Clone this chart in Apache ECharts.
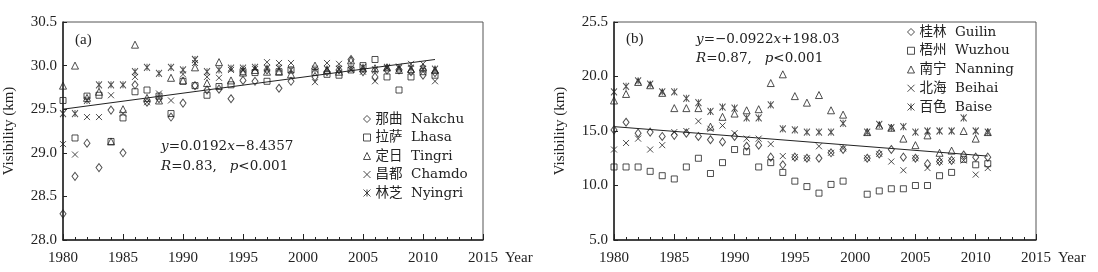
<!DOCTYPE html>
<html>
<head>
<meta charset="utf-8">
<script src="https://cdn.jsdelivr.net/npm/echarts@6/dist/echarts.min.js"></script>
<style>
html, body { margin: 0; padding: 0; background: #fff; }
#chart { width: 1098px; height: 272px; }
</style>
</head>
<body>
<div id="chart"></div>
<script>
// years with data (2000 is missing in both panels)
const years = [1980, 1981, 1982, 1983, 1984, 1985, 1986, 1987, 1988, 1989,
  1990, 1991, 1992, 1993, 1994, 1995, 1996, 1997, 1998, 1999,
  2001, 2002, 2003, 2004, 2005, 2006, 2007, 2008, 2009, 2010, 2011]

// (a) Tibet stations
const nakchu = [28.30, 28.73, 29.11, 28.83, 29.49, 29.00, 29.78, 29.58, 29.62, 29.41,
  29.57, 29.77, 29.72, 29.73, 29.62, 29.83, 29.82, 29.95, 29.74, 29.82,
  29.87, 29.93, 29.95, 30.07, 29.93, 29.87, 29.95, 29.95, 29.93, 29.89, 29.92]
const lhasa = [29.60, 29.17, 29.65, 29.66, 29.13, 29.40, 29.70, 29.72, 29.65, 29.45,
  29.82, 29.77, 29.66, 29.76, 29.78, 29.93, 29.92, 29.82, 29.93, 29.95,
  29.92, 29.90, 29.89, 29.95, 30.00, 30.07, 29.87, 29.72, 29.87, 29.93, 29.89]
const tingri = [29.77, 30.00, 29.63, 29.70, 29.13, 29.50, 30.24, 29.63, 29.60, 29.86,
  29.83, 29.98, 29.80, 30.04, 29.83, 29.92, 29.95, 29.93, 29.93, 29.90,
  30.00, 29.95, 29.93, 30.06, 29.97, 29.97, 29.98, 29.95, 29.96, 29.98, 29.95]
const chamdo = [29.10, 28.98, 29.41, 29.41, 29.66, 29.45, 29.87, 29.58, 29.68, 29.60,
  29.90, 30.03, 29.87, 29.86, 29.95, 29.95, 29.96, 30.04, 30.03, 30.03,
  29.81, 30.03, 30.02, 29.95, 29.93, 29.82, 29.97, 29.99, 30.02, 30.02, 29.82]
const nyingri = [29.45, 29.45, 29.60, 29.78, 29.78, 29.78, 29.93, 29.98, 29.91, 29.98,
  29.95, 30.07, 29.93, 29.95, 29.97, 29.97, 29.98, 29.97, 29.97, 29.95,
  29.96, 29.96, 29.96, 29.97, 29.98, 29.95, 29.98, 29.97, 29.97, 29.96, 29.96]
const trendA = [29.50, 30.07]

// (b) Guangxi stations
const guilin = [15.1, 15.8, 14.8, 14.9, 14.5, 14.6, 14.8, 14.5, 14.2, 14.0,
  14.5, 13.6, 13.7, 12.6, 11.9, 12.6, 12.5, 12.5, 13.0, 13.3,
  12.5, 12.9, 13.3, 12.6, 12.5, 12.0, 12.2, 12.3, 12.8, 12.6, 12.6]
const wuzhou = [11.7, 11.7, 11.7, 11.3, 10.9, 10.6, 11.7, 12.5, 11.1, 12.1,
  13.3, 13.1, 11.7, 12.1, 11.2, 10.4, 9.9, 9.3, 10.1, 10.4,
  9.2, 9.5, 9.7, 9.7, 10.0, 10.0, 10.9, 11.2, 12.4, 11.9, 12.0]
const nanning = [17.8, 18.4, 19.5, 19.2, 18.5, 17.1, 17.1, 17.1, 15.4, 16.3,
  16.6, 16.9, 17.0, 19.4, 20.2, 18.2, 17.6, 18.3, 16.9, 16.5,
  14.9, 15.5, 15.3, 14.3, 13.7, 14.6, 13.0, 13.2, 15.0, 14.3, 14.9]
const beihai = [13.3, 13.9, 14.3, 13.3, 13.7, 14.9, 15.0, 15.9, 15.2, 15.5,
  14.8, 14.3, 14.3, 13.8, 12.7, 12.6, 12.5, 13.6, 13.0, 13.4,
  12.5, 12.9, 12.2, 11.4, 12.5, 11.6, 12.2, 12.3, 12.3, 11.0, 11.6]
const baise = [18.6, 19.1, 19.6, 19.3, 18.6, 18.6, 18.0, 17.6, 16.8, 17.2,
  17.1, 16.2, 16.2, 17.4, 15.2, 15.1, 14.9, 14.9, 14.9, 15.7,
  14.9, 15.6, 15.3, 15.4, 14.9, 15.0, 15.0, 15.0, 16.2, 15.0, 14.9]
const trendB = [15.4, 12.7]

const yTicksB = [5, 10, 15, 20, 25]
const yTickLabelsB = ['5.0', '10.0', '15.0', '20.0', '25.5']

const serif = "'Liberation Serif', 'Noto Sans CJK SC', serif"
const wide = "'DejaVu Serif', 'Noto Sans CJK SC', serif"
const ink = '#222'

const SYM = {
  diamond: 'diamond',
  rect: 'rect',
  triangle: 'triangle',
  cross: 'path://M0,0L10,10M10,0L0,10',
  star: 'path://M0,0L10,10M10,0L0,10M5,0L5,10'
}

const hollow = { color: 'rgba(0,0,0,0)', borderColor: ink, borderWidth: 1 }

function station(name, vals, symbol, size, gi) {
  return {
    type: 'scatter',
    name,
    xAxisIndex: gi,
    yAxisIndex: gi,
    data: years.map((y, i) => [y, vals[i]]),
    symbol,
    symbolSize: size,
    itemStyle: hollow,
    silent: true
  }
}

function trend(vals, gi) {
  return {
    type: 'line',
    xAxisIndex: gi,
    yAxisIndex: gi,
    data: [[years[0], vals[0]], [years[years.length - 1], vals[1]]],
    symbol: 'none',
    lineStyle: { color: ink, width: 1 },
    silent: true
  }
}

function xAxisCfg(gi) {
  return {
    type: 'value',
    gridIndex: gi,
    min: 1980,
    max: 2015,
    interval: 5,
    name: 'Year',
    nameLocation: 'end',
    nameGap: 22,
    nameTextStyle: { fontFamily: serif, fontSize: 15, color: ink, verticalAlign: 'top', padding: [11, 0, 0, 0] },
    axisLine: { show: true, lineStyle: { color: ink, width: 1.5 } },
    axisTick: { show: true, inside: true, length: 6, lineStyle: { color: ink } },
    minorTick: { show: true, splitNumber: 5, length: 3, lineStyle: { color: ink } },
    axisLabel: { fontFamily: serif, fontSize: 15, color: ink, margin: 11, formatter: v => String(v), showMinLabel: true, showMaxLabel: true },
    splitLine: { show: false },
    minorSplitLine: { show: false }
  }
}

function yAxisCfg(gi, min, max, interval, fmt) {
  return {
    type: 'value',
    gridIndex: gi,
    min,
    max,
    interval,
    name: 'Visibility (km)',
    nameLocation: 'middle',
    nameGap: 46,
    nameTextStyle: { fontFamily: serif, fontSize: 15, color: ink },
    axisLine: { show: true, lineStyle: { color: ink, width: 1.5 } },
    axisTick: { show: true, inside: true, length: 4, lineStyle: { color: ink } },
    axisLabel: { fontFamily: serif, fontSize: 15, color: ink, margin: 6, formatter: fmt, showMinLabel: true, showMaxLabel: true },
    splitLine: { show: false }
  }
}

const labelFont = { fontFamily: serif, fontSize: 15, fontWeight: 'normal', color: ink }
const eqFont = { fontFamily: wide, fontSize: 13.5, fontWeight: 'normal', color: ink }
const rich = { i: { fontFamily: wide, fontSize: 13.5, fontStyle: 'italic', fontWeight: 'normal', color: ink } }

const chart = echarts.init(document.getElementById('chart'), null, { renderer: 'canvas' })

chart.setOption({
  animation: false,
  backgroundColor: '#fff',
  title: [
    { text: '(a)', left: 70, top: 28, textStyle: labelFont },
    { text: '(b)', left: 621, top: 27, textStyle: labelFont },
    {
      text: '{i|y}=0.0192{i|x}\u22128.4357\n{i|R}=0.83,   {i|p}<0.001',
      left: 156, top: 131,
      textStyle: Object.assign({ lineHeight: 20, rich }, eqFont)
    },
    {
      text: '{i|y}=\u22120.0922{i|x}+198.03\n{i|R}=0.87,   {i|p}<0.001',
      left: 691, top: 25,
      textStyle: Object.assign({ lineHeight: 19, rich }, eqFont)
    }
  ],
  legend: [
    {
      data: ['那曲  Nakchu', '拉萨  Lhasa', '定日  Tingri', '昌都  Chamdo', '林芝  Nyingri'],
      orient: 'vertical',
      left: 358, top: 107,
      itemWidth: 7, itemHeight: 7, itemGap: 4.5,
      itemStyle: hollow,
      textStyle: { fontFamily: wide, fontSize: 13.5, color: ink, lineHeight: 14 },
      selectedMode: false
    },
    {
      data: ['桂林  Guilin', '梧州  Wuzhou', '南宁  Nanning', '北海  Beihai', '百色  Baise'],
      orient: 'vertical',
      left: 902, top: 20,
      itemWidth: 7, itemHeight: 7, itemGap: 4.75,
      itemStyle: hollow,
      textStyle: { fontFamily: wide, fontSize: 13.5, color: ink, lineHeight: 14 },
      selectedMode: false
    }
  ],
  grid: [
    { left: 63, top: 22, width: 420, height: 218, show: true, borderColor: '#555', borderWidth: 1, outerBoundsMode: 'none' },
    { left: 614, top: 22, width: 422, height: 218, show: true, borderColor: '#555', borderWidth: 1, outerBoundsMode: 'none' }
  ],
  xAxis: [xAxisCfg(0), xAxisCfg(1)],
  yAxis: [
    yAxisCfg(0, 28, 30.5, 0.5, v => v.toFixed(1)),
    yAxisCfg(1, 5, 25, 5, v => yTickLabelsB[yTicksB.indexOf(v)] || '')
  ],
  series: [
    trend(trendA, 0),
    station('那曲  Nakchu', nakchu, SYM.diamond, [6, 8], 0),
    station('拉萨  Lhasa', lhasa, SYM.rect, [6, 6], 0),
    station('定日  Tingri', tingri, SYM.triangle, [7, 7], 0),
    station('昌都  Chamdo', chamdo, SYM.cross, [6, 6], 0),
    station('林芝  Nyingri', nyingri, SYM.star, [6, 7], 0),
    trend(trendB, 1),
    station('桂林  Guilin', guilin, SYM.diamond, [6, 8], 1),
    station('梧州  Wuzhou', wuzhou, SYM.rect, [6, 6], 1),
    station('南宁  Nanning', nanning, SYM.triangle, [7, 7], 1),
    station('北海  Beihai', beihai, SYM.cross, [6, 6], 1),
    station('百色  Baise', baise, SYM.star, [6, 7], 1)
  ]
})
</script>
</body>
</html>
